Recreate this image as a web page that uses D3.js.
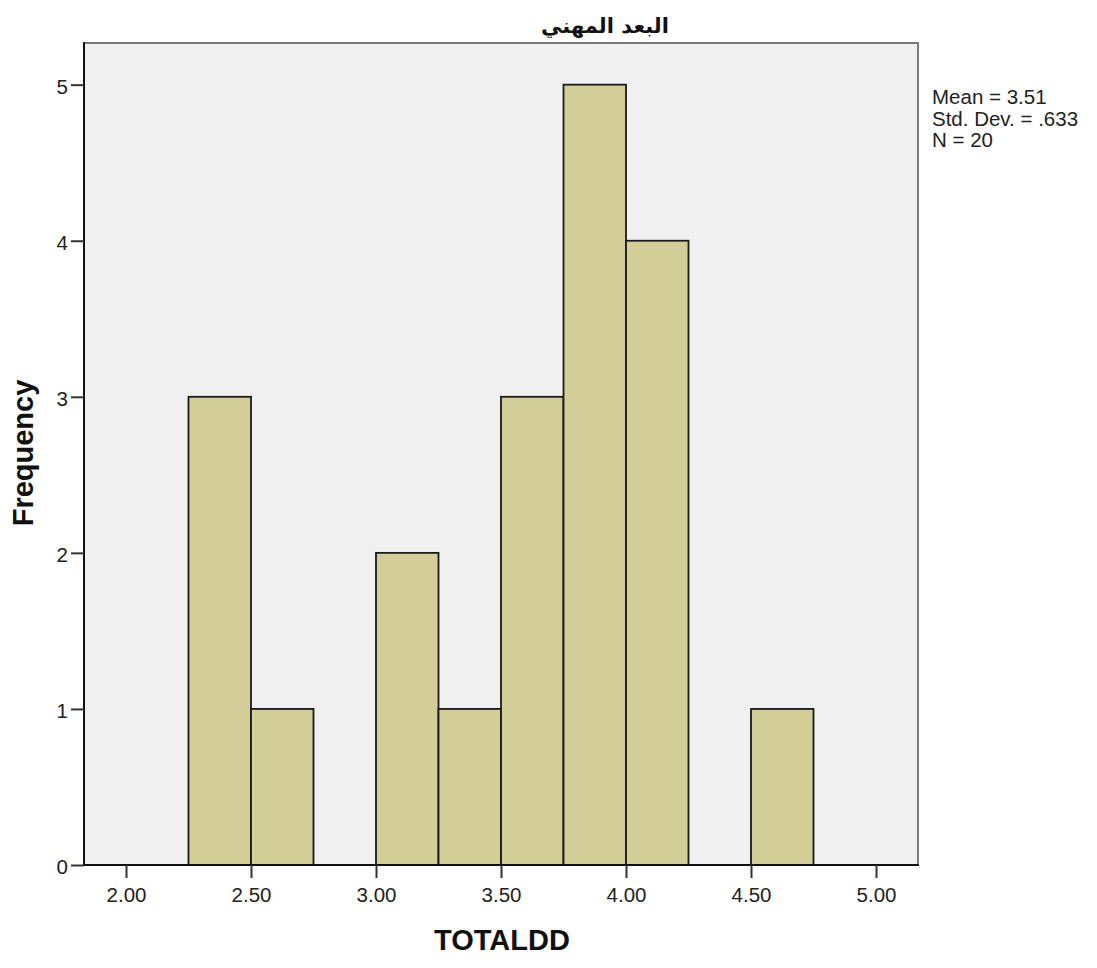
<!DOCTYPE html>
<html>
<head>
<meta charset="utf-8">
<script src="https://cdn.jsdelivr.net/npm/d3@7"></script>
<style>
  html, body { margin: 0; padding: 0; background: #ffffff; }
  svg { display: block; }
</style>
</head>
<body>
<svg id="chart" width="1097" height="968"></svg>
<script>
// ---- data ----
const binStarts = [2.25, 2.50, 3.00, 3.25, 3.50, 3.75, 4.00, 4.50];
const binWidth = 0.25;
const frequencies = [3, 1, 2, 1, 3, 5, 4, 1];
const xTicks = [2.00, 2.50, 3.00, 3.50, 4.00, 4.50, 5.00];
const yTicks = [0, 1, 2, 3, 4, 5];
const titleText = "البعد المهني";
const xTitle = "TOTALDD";
const yTitle = "Frequency";
const statsLines = ["Mean = 3.51", "Std. Dev. = .633", "N = 20"];

// ---- layout ----
const svg = d3.select("#chart");
const plot = { left: 84, right: 918, top: 43, bottom: 865 };

const x = d3.scaleLinear().domain([1.832, 5.168]).range([plot.left, plot.right]);
const y = d3.scaleLinear().domain([0, 5.267]).range([plot.bottom, plot.top]);

// background
svg.append("rect")
  .attr("x", plot.left).attr("y", plot.top)
  .attr("width", plot.right - plot.left).attr("height", plot.bottom - plot.top)
  .attr("fill", "#f0f0f0");

// frame top & right (grey)
svg.append("path")
  .attr("d", `M${plot.left},${plot.top}H${plot.right}V${plot.bottom}`)
  .attr("fill", "none").attr("stroke", "#7a7a7a").attr("stroke-width", 2);

// bars
const bars = binStarts.map((s, i) => ({ x0: s, x1: s + binWidth, n: frequencies[i] }));
svg.append("g").selectAll("rect").data(bars).join("rect")
  .attr("x", d => x(d.x0))
  .attr("y", d => y(d.n))
  .attr("width", d => x(d.x1) - x(d.x0))
  .attr("height", d => y(0) - y(d.n))
  .attr("fill", "#d3ce97")
  .attr("stroke", "#1a1a1a")
  .attr("stroke-width", 1.8);

// axes
const xAxis = svg.append("g")
  .attr("transform", `translate(0,${plot.bottom})`)
  .call(d3.axisBottom(x).tickValues(xTicks).tickFormat(d3.format(".2f")).tickSize(13).tickSizeOuter(0).tickPadding(9));
const yAxis = svg.append("g")
  .attr("transform", `translate(${plot.left},0)`)
  .call(d3.axisLeft(y).tickValues(yTicks).tickFormat(d3.format("d")).tickSize(13).tickSizeOuter(0).tickPadding(3));

[xAxis, yAxis].forEach(g => {
  g.select(".domain").attr("stroke", "#111").attr("stroke-width", 2);
  g.selectAll(".tick line").attr("stroke", "#333").attr("stroke-width", 2);
  g.selectAll(".tick text")
    .attr("font-family", "Liberation Sans, Arial, sans-serif")
    .attr("font-size", 20.5)
    .attr("fill", "#222");
});
yAxis.selectAll(".tick text").attr("dy", "0.42em");
// extend domain lines to frame corners
xAxis.select(".domain").attr("d", `M${plot.left - 1},0H${plot.right + 1}`);
yAxis.select(".domain").attr("d", `M0,${plot.top - 1}V${plot.bottom + 1}`);

// title
svg.append("text")
  .attr("x", 605).attr("y", 33)
  .attr("text-anchor", "middle")
  .attr("direction", "rtl")
  .attr("font-family", "DejaVu Sans, sans-serif")
  .attr("font-weight", "bold")
  .attr("font-size", 21)
  .attr("fill", "#111")
  .text(titleText);

// axis titles
svg.append("text")
  .attr("x", (plot.left + plot.right) / 2 + 1).attr("y", 950)
  .attr("text-anchor", "middle")
  .attr("font-family", "Liberation Sans, Arial, sans-serif")
  .attr("font-weight", "bold")
  .attr("font-size", 29)
  .attr("fill", "#111")
  .text(xTitle);

svg.append("text")
  .attr("transform", `translate(33,453) rotate(-90)`)
  .attr("text-anchor", "middle")
  .attr("font-family", "Liberation Sans, Arial, sans-serif")
  .attr("font-weight", "bold")
  .attr("font-size", 29)
  .attr("fill", "#111")
  .text(yTitle);

// stats
svg.append("g").selectAll("text").data(statsLines).join("text")
  .attr("x", 932)
  .attr("y", (d, i) => 104 + i * 21.5)
  .attr("font-family", "Liberation Sans, Arial, sans-serif")
  .attr("font-size", 20.5)
  .attr("fill", "#222")
  .text(d => d);
</script>
</body>
</html>
